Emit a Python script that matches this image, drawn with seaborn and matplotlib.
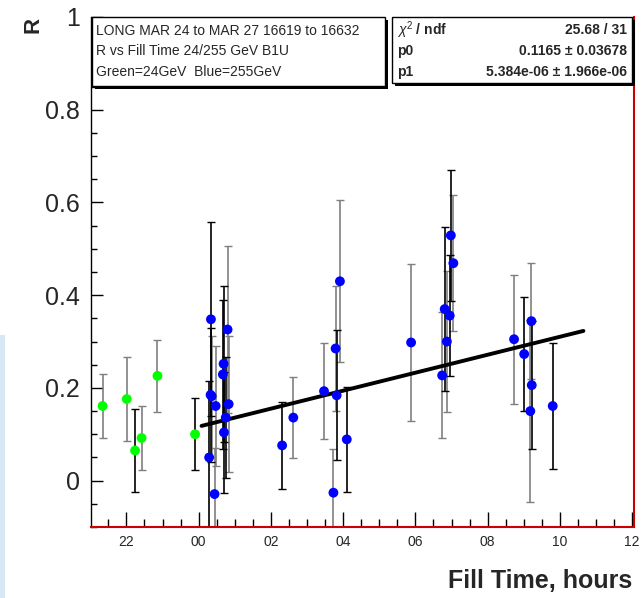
import numpy as np
import pandas as pd
import matplotlib
matplotlib.use("Agg")
import matplotlib.pyplot as plt
import seaborn as sns
from matplotlib.patches import Rectangle
from matplotlib.ticker import FixedLocator, MultipleLocator

# ---------------- data ----------------
green_hours = [-2.66, -1.99, -1.76, -1.58, -1.14, -0.10]
green_R = [0.161, 0.176, 0.065, 0.092, 0.226, 0.100]
green_err = [0.070, 0.090, 0.090, 0.070, 0.078, 0.078]
green_errcolor = ["grey", "grey", "black", "grey", "grey", "black"]

blue_hours = [0.29, 0.33, 0.34, 0.36, 0.44, 0.47, 0.67, 0.69, 0.70, 0.75, 0.80, 0.83,
              2.31, 2.62, 3.47, 3.73, 3.79, 3.82, 3.91, 4.10,
              5.88, 6.74, 6.81, 6.87, 6.95, 6.98, 7.05,
              8.73, 9.01, 9.18, 9.21, 9.22, 9.80]
blue_R = [0.050, 0.185, 0.348, 0.182, -0.029, 0.161, 0.229, 0.252, 0.104, 0.136, 0.326, 0.165,
          0.076, 0.136, 0.193, -0.026, 0.285, 0.184, 0.430, 0.089,
          0.298, 0.227, 0.370, 0.300, 0.356, 0.529, 0.469,
          0.305, 0.273, 0.150, 0.344, 0.206, 0.161]
blue_err = [0.165, 0.145, 0.209, 0.130, 0.100, 0.130, 0.160, 0.168, 0.130, 0.130, 0.180, 0.147,
            0.093, 0.088, 0.104, 0.095, 0.134, 0.140, 0.175, 0.114,
            0.170, 0.136, 0.176, 0.152, 0.130, 0.141, 0.147,
            0.139, 0.123, 0.197, 0.125, 0.138, 0.136]
blue_errcolor = ["black", "black", "black", "grey", "grey", "grey", "black", "black", "black", "black", "grey", "grey",
                 "black", "grey", "grey", "grey", "grey", "black", "grey", "black",
                 "grey", "grey", "black", "grey", "black", "black", "grey",
                 "grey", "black", "grey", "grey", "black", "black"]

fit_p0 = 0.1165
fit_p1 = 5.384e-06          # per second
fit_range_hours = [0.08, 10.65]

x_tick_hours = [-2, 0, 2, 4, 6, 8, 10, 12]
x_tick_labels = ["22", "00", "02", "04", "06", "08", "10", "12"]
y_ticks = [0, 0.2, 0.4, 0.6, 0.8, 1.0]
y_tick_labels = ["0", "0.2", "0.4", "0.6", "0.8", "1"]

info_lines = ["LONG MAR 24 to MAR 27 16619 to 16632",
              "R vs Fill Time 24/255 GeV B1U",
              "Green=24GeV  Blue=255GeV"]
stats_names = [r"$\chi^{2}$ / ndf", "p0", "p1"]
stats_values = ["25.68 / 31", "0.1165 \u00b1 0.03678", "5.384e-06 \u00b1 1.966e-06"]

# ---------------- style ----------------
sns.set_style("ticks")
plt.rcParams["font.family"] = ["Liberation Sans", "DejaVu Sans"]
plt.rcParams["mathtext.fontset"] = "custom"
plt.rcParams["mathtext.rm"] = "Liberation Sans"
plt.rcParams["mathtext.it"] = "Liberation Sans:italic"
plt.rcParams["mathtext.bf"] = "Liberation Sans:bold"

W, H = 641, 598
fig = plt.figure(figsize=(W / 100, H / 100), dpi=100)
fig.patch.set_facecolor("white")

def px(x0, y0, x1, y1):
    return (x0 / W, 1 - y1 / H, (x1 - x0) / W, (y1 - y0) / H)

# light blue strip at the left edge of the screenshot
l, b, w, h = px(0, 335, 5, 598)
fig.add_artist(Rectangle((l, b), w, h, transform=fig.transFigure, color="#d8e7f6", lw=0, zorder=0))

ax = fig.add_axes([91 / W, 71 / H, 543 / W, 510 / H])
ax.set_facecolor("white")

df = pd.DataFrame({
    "hours": green_hours + blue_hours,
    "R": green_R + blue_R,
    "err": green_err + blue_err,
    "errcolor": green_errcolor + blue_errcolor,
    "beam": ["24GeV"] * len(green_hours) + ["255GeV"] * len(blue_hours),
})

grey = "#7f7f7f"
for col, c in [("grey", grey), ("black", "black")]:
    sub = df[df["errcolor"] == col]
    ax.errorbar(sub["hours"], sub["R"], yerr=sub["err"], fmt="none",
                ecolor=c, elinewidth=1.2, capsize=3.0, capthick=1.0, zorder=2)

fit_x = np.array(fit_range_hours)
fit_df = pd.DataFrame({"hours": fit_x, "R": fit_p0 + fit_p1 * 3600.0 * fit_x})
sns.lineplot(data=fit_df, x="hours", y="R", color="black", lw=2.8, ax=ax, zorder=3)

sns.scatterplot(data=df, x="hours", y="R", hue="beam",
                palette={"24GeV": "#00ff00", "255GeV": "#0000ff"},
                s=50, edgecolor="none", legend=False, ax=ax, zorder=4)

ax.set_xlim(-2.98, 12.05)
ax.set_ylim(-0.1, 1.0)

ax.xaxis.set_major_locator(FixedLocator(x_tick_hours))
ax.set_xticklabels(x_tick_labels)
ax.xaxis.set_minor_locator(MultipleLocator(0.5))
ax.yaxis.set_major_locator(FixedLocator(y_ticks))
ax.set_yticklabels(y_tick_labels)
ax.yaxis.set_minor_locator(MultipleLocator(0.05))

ax.tick_params(axis="both", which="both", direction="in", top=False, right=False, color="black", width=1.0)
ax.tick_params(axis="x", which="major", length=10.8, labelsize=10, pad=6)
ax.tick_params(axis="x", which="minor", length=5.8)
ax.tick_params(axis="y", which="major", length=8.6, labelsize=18, pad=8)
ax.tick_params(axis="y", which="minor", length=4.3)

red = "#cc0000"
ax.spines["left"].set_color("black")
ax.spines["left"].set_linewidth(1.0)
ax.spines["top"].set_visible(False)
for s in ["bottom", "right"]:
    ax.spines[s].set_color(red)
    ax.spines[s].set_linewidth(1.5)

ax.set_xlabel("Fill Time, hours", loc="right", fontweight="bold", fontsize=18)
ax.xaxis.set_label_coords(1.0 - 2 / 543, -0.082)
ax.set_ylabel("R", loc="top", fontweight="bold", fontsize=16)
ax.yaxis.set_label_coords(-0.087, 1.0)

# ---------------- text boxes ----------------
def box(x0, y0, x1, y1, shadow=3):
    l, b, w, h = px(x0 + shadow, y0 + shadow, x1 + shadow, y1 + shadow)
    fig.add_artist(Rectangle((l, b), w, h, transform=fig.transFigure, facecolor="black", edgecolor="black", lw=0, zorder=10))
    l, b, w, h = px(x0, y0, x1, y1)
    fig.add_artist(Rectangle((l, b), w, h, transform=fig.transFigure, facecolor="white", edgecolor="black", lw=1.0, zorder=11))

box(92, 17, 385, 86)
box(392, 17, 632, 83)

row_y = [31, 51, 72]
for txt, yy in zip(info_lines, row_y):
    fig.text(96 / W, 1 - yy / H, txt, fontsize=10, ha="left", va="center", zorder=12)

stat_y = [30, 51, 72]
for name, val, yy in zip(stats_names, stats_values, stat_y):
    fig.text(397 / W, 1 - yy / H, name, fontsize=10, fontweight="bold", ha="left", va="center", zorder=12)
    fig.text(627 / W, 1 - yy / H, val, fontsize=10, fontweight="bold", ha="right", va="center", zorder=12)

fig.savefig("out.png", dpi=100)
